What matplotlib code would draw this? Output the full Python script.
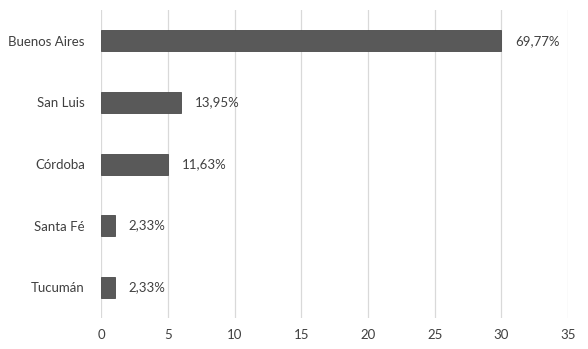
import matplotlib.pyplot as plt

provinces = ["Buenos Aires", "San Luis", "Córdoba", "Santa Fé", "Tucumán"]
counts = [30, 6, 5, 1, 1]
labels = ["69,77%", "13,95%", "11,63%", "2,33%", "2,33%"]

plt.rcParams['font.family'] = ['Lato', 'DejaVu Sans']
txt = '#404040'

fig = plt.figure(figsize=(5.88, 3.49), dpi=100)
ax = fig.add_axes([0.1726, 0.0888, 0.7934, 0.8822])

ypos = list(range(len(provinces)))
ax.barh(ypos, counts, height=0.34, color='#595959', edgecolor='#4a4a4a', linewidth=0.6, zorder=3)
for y, c, lab in zip(ypos, counts, labels):
    ax.annotate(lab, (c, y), xytext=(10, 0), textcoords='offset points',
                va='center', ha='left', fontsize=9.5, color=txt)

ax.set_xlim(0, 35)
ax.set_ylim(len(provinces) - 0.5, -0.5)
ax.set_xticks(range(0, 36, 5))
ax.set_yticks(ypos)
ax.set_yticklabels(provinces)
ax.grid(axis='x', color='#d9d9d9', linewidth=0.9, zorder=0)
for s in ax.spines.values():
    s.set_visible(False)
ax.tick_params(axis='both', length=0, labelsize=9.5, labelcolor=txt)
ax.tick_params(axis='y', pad=12)
ax.tick_params(axis='x', pad=8)

fig.savefig('out.png', dpi=100)
